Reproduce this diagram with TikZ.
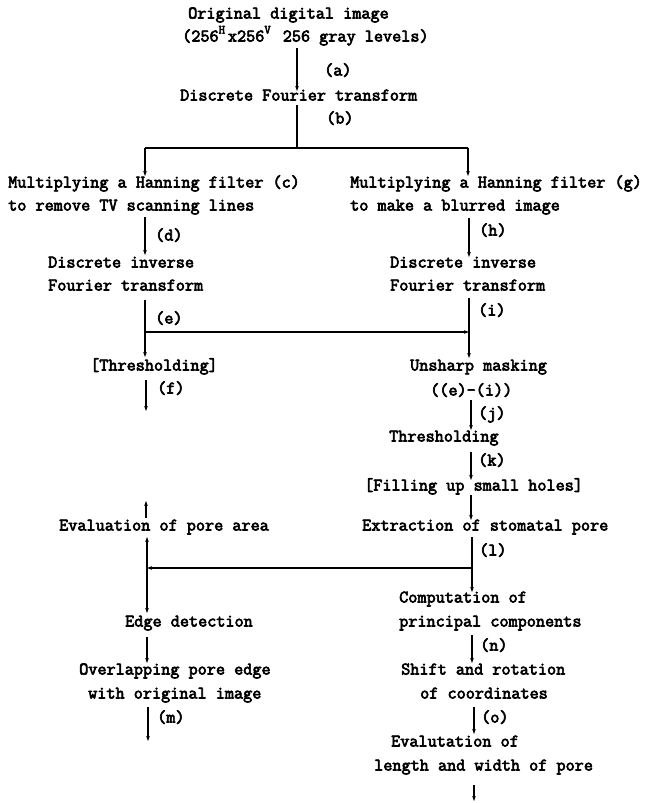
\documentclass[tikz,border=0pt]{standalone}
\usepackage{fontspec}
\newfontfamily\tw{Latin Modern Mono}[FakeBold=3.5]
\usetikzlibrary{arrows.meta}
\tikzset{
  txt/.style={font=\tw\fontsize{17.7}{20}\selectfont, anchor=west, inner sep=0pt, text height=10.9pt, text depth=3.9pt},
  conn/.style={line width=1.1pt},
  arr/.style={conn, -{Stealth[length=5pt,width=3.6pt]}},
}
\newcommand{\supc}[1]{\makebox[0.525em][l]{\raisebox{0.45em}{\fontsize{12.5}{13}\selectfont #1}}}
\begin{document}
\begin{tikzpicture}[x=1pt,y=-1pt]
\useasboundingbox (0,0) rectangle (653,803);
% ---- texts ----
\node[txt] (orig1) at (188,15) {Original digital image};
\node[txt] (orig2) at (182,38) {(256\supc{H}x256\supc{V} 256 gray levels)};
\node[txt] (la) at (324,72) {(a)};
\node[txt] (dft) at (180,97) {Discrete Fourier transform};
\node[txt] (lb) at (326,120) {(b)};
\node[txt] (hc1) at (8,184) {Multiplying a Hanning filter (c)};
\node[txt] (hc2) at (8,207) {to remove TV scanning lines};
\node[txt] (hg1) at (350,184) {Multiplying a Hanning filter (g)};
\node[txt] (hg2) at (350,207) {to make a blurred image};
\node[txt] (ld) at (155,237) {(d)};
\node[txt] (lh) at (479,232) {(h)};
\node[txt] (idl1) at (48,264) {Discrete inverse};
\node[txt] (idl2) at (48,287) {Fourier transform};
\node[txt] (idr1) at (390,264) {Discrete inverse};
\node[txt] (idr2) at (390,287) {Fourier transform};
\node[txt] (le) at (155,320) {(e)};
\node[txt] (li) at (478,312) {(i)};
\node[txt] (thl) at (90,367) {[Thresholding]};
\node[txt] (usm1) at (410,367) {Unsharp masking};
\node[txt] (lf) at (157,390) {(f)};
\node[txt] (usm2) at (430,392) {((e)-(i))};
\node[txt] (lj) at (478,415) {(j)};
\node[txt] (thr) at (389,438) {Thresholding};
\node[txt] (lk) at (478,462) {(k)};
\node[txt] (fill) at (364,487) {[Filling up small holes]};
\node[txt] (extr) at (362,527) {Extraction of stomatal pore};
\node[txt] (evpa) at (59,527) {Evaluation of pore area};
\node[txt] (ll) at (479,552) {(l)};
\node[txt] (comp1) at (399,599) {Computation of};
\node[txt] (comp2) at (399,623) {principal components};
\node[txt] (edge) at (125,623) {Edge detection};
\node[txt] (ln) at (480,647) {(n)};
\node[txt] (shift1) at (401,671) {Shift and rotation};
\node[txt] (shift2) at (420,695) {of coordinates};
\node[txt] (ovl1) at (79,671) {Overlapping pore edge};
\node[txt] (ovl2) at (88,695) {with original image};
\node[txt] (lo) at (481,719) {(o)};
\node[txt] (lm) at (157,719) {(m)};
\node[txt] (evl1) at (391,743) {Evalutation of};
\node[txt] (evl2) at (374,767) {length and width of pore};
% ---- connector end points ----
\coordinate (a1) at (297,48);  \coordinate (a2) at (297,91);
\coordinate (b1) at (297,105); \coordinate (b2) at (297,148);
\coordinate (bl) at (145,148); \coordinate (br) at (468,148);
\coordinate (blt) at (145,176); \coordinate (brt) at (468,176);
\coordinate (d1) at (145,217); \coordinate (d2) at (145,255);
\coordinate (h1) at (469,218); \coordinate (h2) at (469,257);
\coordinate (e1) at (145,300); \coordinate (e2) at (145,357);
\coordinate (ej) at (145,332); \coordinate (ij) at (469,332);
\coordinate (i1) at (469,298); \coordinate (i2) at (469,358);
\coordinate (f1) at (146,380); \coordinate (f2) at (146,411);
\coordinate (j1) at (471,400); \coordinate (j2) at (471,430);
\coordinate (k1) at (471,452); \coordinate (k2) at (471,480);
\coordinate (x1) at (471,495); \coordinate (x2) at (471,520);
\coordinate (l1) at (472,537); \coordinate (l2) at (472,592);
\coordinate (lj) at (472,568); \coordinate (pj) at (147,568);
\coordinate (pu) at (147,537); \coordinate (pd) at (147,613);
\coordinate (q1) at (146,518); \coordinate (q2) at (146,501);
\coordinate (n1) at (472,635); \coordinate (n2) at (472,663);
\coordinate (g1) at (147,637); \coordinate (g2) at (147,663);
\coordinate (o1) at (474,707); \coordinate (o2) at (474,734);
\coordinate (m1) at (148,707); \coordinate (m2) at (148,741);
\coordinate (z1) at (474,785); \coordinate (z2) at (474,801);
% ---- connectors ----
\draw[arr] (a1) -- (a2);
\draw[conn] (b1) -- (b2);
\draw[conn] (bl) -- (br);
\draw[arr] (bl) -- (blt);
\draw[arr] (br) -- (brt);
\draw[arr] (d1) -- (d2);
\draw[arr] (h1) -- (h2);
\draw[arr] (e1) -- (e2);
\draw[arr] (ej) -- (ij);
\draw[arr] (i1) -- (i2);
\draw[arr] (f1) -- (f2);
\draw[arr] (j1) -- (j2);
\draw[arr] (k1) -- (k2);
\draw[arr] (x1) -- (x2);
\draw[arr] (l1) -- (l2);
\draw[arr] (lj) -- (pj);
\draw[arr] (pj) -- (pu);
\draw[arr] (pj) -- (pd);
\draw[arr] (q1) -- (q2);
\draw[arr] (n1) -- (n2);
\draw[arr] (g1) -- (g2);
\draw[arr] (o1) -- (o2);
\draw[arr] (m1) -- (m2);
\draw[arr] (z1) -- (z2);
\end{tikzpicture}
\end{document}
